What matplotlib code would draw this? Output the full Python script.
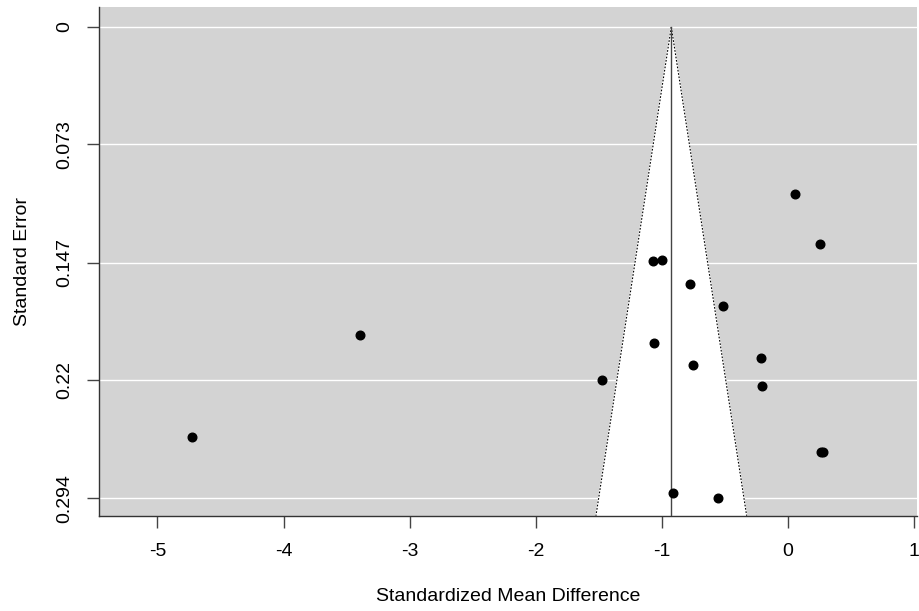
import numpy as np
import matplotlib
matplotlib.use("Agg")
import matplotlib.pyplot as plt

plt.rcParams['font.family'] = ['Liberation Sans', 'DejaVu Sans']

# study effects (standardized mean difference) and standard errors
smd = [0.052, 0.256, -1.069, -1.000, -0.781, -0.516, -1.067, -0.752, -0.212,
       -1.474, -0.204, 0.260, 0.276, -0.913, -0.559, -3.395, -4.726]
sei = [0.1039, 0.1351, 0.1457, 0.1453, 0.1605, 0.1738, 0.1972, 0.2105, 0.2066,
       0.2199, 0.2238, 0.2653, 0.2653, 0.2904, 0.2938, 0.1918, 0.2559]
estimate = -0.926
yticks = [0, 0.073, 0.147, 0.22, 0.294]
ytick_labels = ['0', '0.073', '0.147', '0.22', '0.294']
xticks = [-5, -4, -3, -2, -1, 0, 1]

xlim = (-5.461, 1.022)
ylim = (0.3048, -0.0125)

fig = plt.figure(figsize=(9.19, 6.11), dpi=100)
ax = fig.add_axes([99.3 / 919, 1 - 515.7 / 611, 817.7 / 919, 508.7 / 611])
ax.set_facecolor('lightgray')

# white gridlines
for y in yticks:
    ax.axhline(y, color='white', lw=1, zorder=1)

# funnel (pseudo 95% CI region)
se_bot = ylim[0]
fx = [estimate, estimate - 1.96 * se_bot, estimate + 1.96 * se_bot]
fy = [0, se_bot, se_bot]
ax.fill(fx, fy, color='white', zorder=2)
ax.plot([estimate, estimate - 1.96 * se_bot], [0, se_bot], color='black', lw=0.8, ls=(0, (1.5, 1.5)), zorder=3)
ax.plot([estimate, estimate + 1.96 * se_bot], [0, se_bot], color='black', lw=0.8, ls=(0, (1.5, 1.5)), zorder=3)
ax.plot([estimate, estimate], [0, se_bot], color='#444444', lw=1, zorder=3)

ax.plot(smd, sei, 'o', color='black', markersize=6.2, zorder=4)

ax.set_xlim(*xlim)
ax.set_ylim(*ylim)
ax.set_xticks(xticks)
ax.set_xticklabels([str(v) for v in xticks])
ax.set_yticks(yticks)
ax.set_yticklabels(ytick_labels, rotation=90, va='center')

for s in ['top', 'right']:
    ax.spines[s].set_visible(False)
for s in ['left', 'bottom']:
    ax.spines[s].set_color('#333333')
    ax.spines[s].set_linewidth(1)

ax.tick_params(axis='both', direction='out', length=8.6, width=1, color='#444444',
               labelsize=14)
ax.tick_params(axis='x', pad=11)
ax.tick_params(axis='y', pad=10)

ax.set_xlabel('Standardized Mean Difference', fontsize=14, labelpad=20)
ax.set_ylabel('Standard Error', fontsize=14, labelpad=18)

fig.savefig('out.png', dpi=100)
